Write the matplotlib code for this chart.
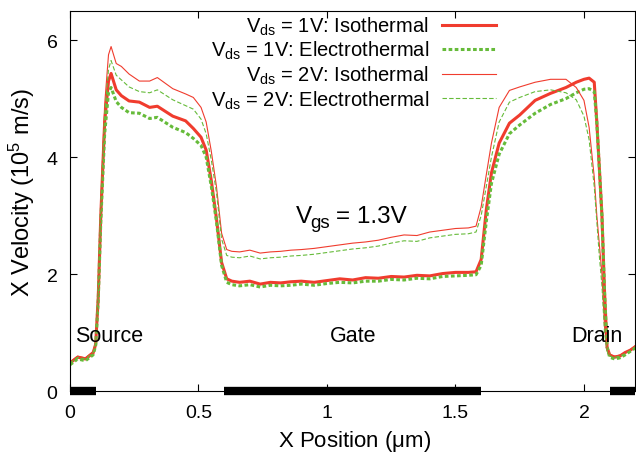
import matplotlib
matplotlib.use("Agg")
import matplotlib.pyplot as plt
import numpy as np

plt.rcParams['font.family'] = ['Liberation Sans', 'DejaVu Sans']
plt.rcParams['mathtext.fontset'] = 'custom'
plt.rcParams['mathtext.rm'] = 'Liberation Sans'
plt.rcParams['mathtext.it'] = 'Liberation Sans'

# position along the channel (um)
pos = [0.00, 0.03, 0.06, 0.09, 0.10, 0.11, 0.12, 0.135, 0.15, 0.16, 0.18, 0.20, 0.23, 0.27,
       0.31, 0.34, 0.40, 0.45, 0.48, 0.51, 0.53, 0.55, 0.57, 0.59, 0.61, 0.63, 0.66, 0.70,
       0.74, 0.78, 0.82, 0.86, 0.90, 0.95, 1.00, 1.05, 1.10, 1.15, 1.20, 1.25, 1.30, 1.35,
       1.40, 1.45, 1.50, 1.55, 1.58, 1.60, 1.62, 1.64, 1.67, 1.71, 1.75, 1.81, 1.87, 1.93,
       1.97, 2.00, 2.02, 2.04, 2.05, 2.06, 2.07, 2.08, 2.09, 2.10, 2.12, 2.14, 2.16, 2.18, 2.20]

# velocity (1e5 m/s)
iso_1v = [0.48, 0.58, 0.55, 0.65, 0.80, 1.6, 3.0, 4.6, 5.3, 5.43, 5.15, 5.05, 4.96, 4.94,
          4.85, 4.87, 4.70, 4.62, 4.49, 4.34, 4.12, 3.6, 2.95, 2.2, 1.92, 1.88, 1.86, 1.88,
          1.83, 1.86, 1.85, 1.87, 1.88, 1.86, 1.89, 1.92, 1.90, 1.94, 1.93, 1.96, 1.95, 1.98,
          1.97, 2.01, 2.03, 2.03, 2.04, 2.25, 3.1, 3.73, 4.24, 4.58, 4.72, 4.97, 5.09, 5.19,
          5.28, 5.33, 5.35, 5.28, 4.6, 3.8, 3.0, 1.7, 0.75, 0.62, 0.58, 0.60, 0.66, 0.70, 0.76]
elec_1v = [0.45, 0.55, 0.52, 0.62, 0.78, 1.55, 2.9, 4.4, 5.1, 5.19, 4.95, 4.85, 4.76, 4.75,
           4.66, 4.68, 4.51, 4.42, 4.32, 4.20, 4.0, 3.5, 2.9, 2.15, 1.86, 1.82, 1.80, 1.82,
           1.78, 1.81, 1.80, 1.81, 1.83, 1.81, 1.84, 1.86, 1.85, 1.88, 1.88, 1.91, 1.90, 1.93,
           1.92, 1.96, 1.97, 1.98, 1.99, 2.15, 2.9, 3.55, 4.05, 4.40, 4.55, 4.75, 4.90, 5.0,
           5.1, 5.16, 5.17, 5.12, 4.6, 3.8, 3.0, 1.7, 0.75, 0.58, 0.55, 0.57, 0.62, 0.68, 0.74]
iso_2v = [0.50, 0.60, 0.57, 0.68, 0.85, 1.7, 3.2, 4.9, 5.75, 5.89, 5.6, 5.55, 5.42, 5.30,
          5.30, 5.36, 5.17, 5.08, 5.02, 4.85, 4.6, 4.1, 3.5, 2.7, 2.42, 2.39, 2.38, 2.41,
          2.36, 2.38, 2.39, 2.41, 2.42, 2.44, 2.47, 2.50, 2.53, 2.55, 2.58, 2.63, 2.67, 2.66,
          2.72, 2.75, 2.78, 2.79, 2.82, 3.15, 3.7, 4.24, 4.85, 5.14, 5.20, 5.28, 5.33, 5.33,
          5.19, 4.97, 4.51, 3.66, 3.0, 2.5, 2.0, 1.1, 0.70, 0.62, 0.60, 0.62, 0.66, 0.71, 0.78]
elec_2v = [0.48, 0.58, 0.55, 0.66, 0.82, 1.65, 3.1, 4.75, 5.5, 5.65, 5.4, 5.32, 5.2, 5.12,
           5.10, 5.15, 4.98, 4.88, 4.82, 4.65, 4.4, 3.95, 3.4, 2.6, 2.32, 2.29, 2.28, 2.31,
           2.26, 2.28, 2.29, 2.31, 2.32, 2.34, 2.37, 2.40, 2.43, 2.45, 2.48, 2.53, 2.57, 2.56,
           2.62, 2.65, 2.68, 2.69, 2.72, 3.0, 3.5, 4.0, 4.6, 4.94, 5.02, 5.12, 5.15, 5.10,
           4.98, 4.7, 4.3, 3.5, 2.9, 2.3, 1.8, 1.0, 0.68, 0.60, 0.58, 0.60, 0.64, 0.69, 0.76]

# contact / gate regions drawn on the x axis
regions = [(0.0, 0.1), (0.6, 1.6), (2.1, 2.2)]
region_names = ['Source', 'Gate', 'Drain']
region_label_x = [0.02, 1.1, 2.05]

red = '#f03c2e'
green = '#66bb3a'

fig = plt.figure(figsize=(6.36, 4.56), dpi=100)
ax = fig.add_axes([0.110, 0.140, 0.889, 0.834])

ax.plot(pos, iso_1v, color=red, lw=2.2, label=r'V$_{\rm ds}$ = 1V: Isothermal')
ax.plot(pos, elec_1v, color=green, lw=2.2, ls=(0, (1.2, 0.8)), label=r'V$_{\rm ds}$ = 1V: Electrothermal')
ax.plot(pos, iso_2v, color=red, lw=0.8, label=r'V$_{\rm ds}$ = 2V: Isothermal')
ax.plot(pos, elec_2v, color=green, lw=0.8, ls=(0, (4, 2)), label=r'V$_{\rm ds}$ = 2V: Electrothermal')

for (a, b) in regions:
    ax.plot([a, b], [0, 0], color='black', lw=6, solid_capstyle='butt', clip_on=False, zorder=5)

for name, xl in zip(region_names, region_label_x):
    ha = 'left' if name == 'Source' else 'center'
    ax.text(xl, 0.95, name, fontsize=15.5, ha=ha, va='center')

# V_gs annotation, built from pieces so the subscript is not too small
ax.text(0.88, 2.89, 'V', fontsize=17.5, ha='left', va='baseline')
ax.text(0.935, 2.80, 'gs', fontsize=13.5, ha='left', va='baseline')
ax.text(1.035, 2.89, '= 1.3V', fontsize=17.5, ha='left', va='baseline')

ax.set_xlim(0, 2.2)
ax.set_ylim(0, 6.5)
ax.set_xticks([0, 0.5, 1, 1.5, 2])
ax.set_xticklabels(['0', '0.5', '1', '1.5', '2'])
ax.set_yticks([0, 2, 4, 6])
ax.tick_params(direction='in', top=True, right=True, length=5, labelsize=14)
ax.tick_params(axis='x', pad=9)
ax.tick_params(axis='y', pad=9)
ax.set_xlabel(r'X Position ($\mu$m)', fontsize=16, va='top')
ax.xaxis.set_label_coords(0.504, -0.097)
ax.set_ylabel(r'X Velocity (10$^{5}$ m/s)', fontsize=17)
ax.yaxis.set_label_coords(-0.058, 0.526)

ax.legend(loc='upper right', bbox_to_anchor=(0.754, 0.99), frameon=False, markerfirst=False,
          fontsize=14.5, handlelength=2.7, handletextpad=0.65, labelspacing=0.11,
          borderpad=0.0, borderaxespad=0.0)

fig.savefig('out.png', dpi=100)
